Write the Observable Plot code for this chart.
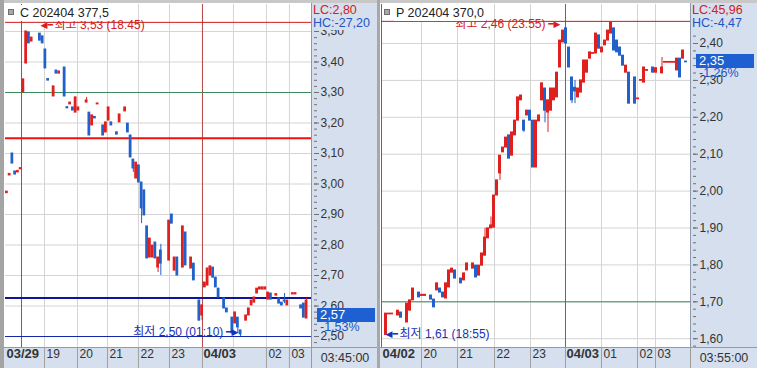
<!DOCTYPE html>
<html><head><meta charset="utf-8">
<script src="https://cdn.jsdelivr.net/npm/d3@7"></script>
<script src="https://cdn.jsdelivr.net/npm/@observablehq/plot@0.6"></script>
<style>
html,body{margin:0;padding:0;background:#fff;}
#root{position:relative;width:757px;height:368px;overflow:hidden;background:#fff;font-family:"Liberation Sans",Arial,"Noto Sans CJK KR",sans-serif;}
.abs{position:absolute;box-sizing:border-box;white-space:nowrap;}
</style></head>
<body><div id="root"></div>
<script>
// ---------------- DATA ----------------
// Left: C 202404 377.5 (5-minute bars; slot = bar position)
const leftSlot = [0,1,2,3,4,5,6,7,8,9, 12,13,14,15,17,18,19,21,22,23, 24,25,26,29,30,31,32,33,35,36, 37,38,40,41,43,44,45,46,47,48,
  49,50,51,52,53,54,55,56,59,60, 61,62,64,65,67,68,70,71,72,73, 74,75,76,77,79,80,82,83,84,85, 87,88,89,90,91,92,93,94,95,96,
  98,99,100,101,102,104,105,107,108,109];
const leftOpen = [2.970,3.028,3.100,3.041,3.038,3.048,3.300,3.395,3.497,3.467, 3.493,3.484,3.441,3.344,3.287,3.372,3.362,3.382,3.252,3.261,
  3.251,3.234,3.241,3.267,3.234,3.192,3.220,3.261,3.192,3.169, 3.208,3.202,3.169,3.202,3.238,3.198,3.159,3.080,3.018,3.061,
  3.005,2.979,2.861,2.759,2.759,2.808,2.726,2.782,2.749,2.900, 2.716,2.759,2.726,2.841,2.723,2.739,2.618,2.569,2.661,2.667,
  2.700,2.726,2.693,2.657,2.625,2.592,2.562,2.543,2.562,2.520, 2.552,2.569,2.602,2.611,2.641,2.654,2.654,2.654,2.621,2.641,
  2.634,2.625,2.611,2.618,2.602,2.638,2.638,2.602,2.608,2.559];
const leftClose = [2.975,3.033,3.067,3.031,3.043,3.052,3.343,3.500,3.461,3.480, 3.470,3.461,3.379,3.339,3.320,3.362,3.369,3.287,3.248,3.267,
  3.241,3.284,3.251,3.274,3.159,3.225,3.215,3.264,3.159,3.202, 3.251,3.192,3.162,3.228,3.251,3.169,3.087,3.051,3.070,3.005,
  2.920,2.897,2.756,2.821,2.798,2.756,2.759,2.739,2.880,2.870, 2.759,2.700,2.861,2.733,2.759,2.684,2.552,2.602,2.677,2.723,
  2.730,2.693,2.661,2.628,2.592,2.579,2.510,2.579,2.530,2.507, 2.569,2.592,2.618,2.628,2.657,2.661,2.661,2.661,2.644,2.621,
  2.639,2.608,2.602,2.615,2.618,2.642,2.642,2.592,2.562,2.618];
const leftHigh = [2.975,3.033,3.100,3.041,3.043,3.052,3.343,3.500,3.497,3.480, 3.493,3.484,3.441,3.344,3.320,3.372,3.369,3.382,3.252,3.267,
  3.251,3.284,3.251,3.284,3.234,3.225,3.220,3.264,3.192,3.202, 3.251,3.202,3.172,3.228,3.251,3.198,3.159,3.080,3.070,3.061,
  3.005,2.979,2.861,2.821,2.798,2.808,2.759,2.802,2.880,2.900, 2.759,2.759,2.861,2.841,2.759,2.739,2.618,2.602,2.677,2.723,
  2.730,2.726,2.693,2.657,2.625,2.592,2.562,2.579,2.562,2.520, 2.569,2.592,2.618,2.628,2.657,2.661,2.661,2.661,2.644,2.641,
  2.639,2.625,2.611,2.641,2.618,2.642,2.642,2.602,2.608,2.625];
const leftLow = [2.970,3.028,3.067,3.031,3.038,3.048,3.300,3.395,3.461,3.467, 3.470,3.461,3.379,3.339,3.287,3.362,3.362,3.287,3.248,3.261,
  3.241,3.234,3.241,3.267,3.159,3.192,3.215,3.261,3.159,3.169, 3.208,3.192,3.162,3.202,3.238,3.169,3.087,3.038,3.018,3.005,
  2.870,2.897,2.756,2.759,2.759,2.756,2.710,2.700,2.749,2.870, 2.716,2.700,2.726,2.733,2.723,2.684,2.552,2.552,2.661,2.667,
  2.700,2.693,2.661,2.628,2.592,2.579,2.510,2.543,2.510,2.500, 2.552,2.569,2.602,2.611,2.641,2.654,2.654,2.654,2.621,2.621,
  2.634,2.608,2.602,2.608,2.602,2.638,2.638,2.592,2.562,2.559];
const leftYTicks = [2.5,2.6,2.7,2.8,2.9,3.0,3.1,3.2,3.3,3.4,3.5];
const leftHourPos = [14.18,26.18,37.09,48.36,59.64,82.91,94.91,103.27];
const leftDayPos = [5.82,71.64];
const leftSepPos = [14.18,26.18,37.09,48.36,59.64,71.64,94.91,103.27];
const leftLabelPos = [0,14.18,26.18,37.09,48.36,59.64,71.64,94.91,103.27];
const leftLabelText = ["03/29","19","20","21","22","23","04/03","02","03"];
const leftHighLevel = 3.53, leftLowLevel = 2.50, leftGreenLevel = 3.30, leftRedLevel = 3.15, leftNavyLevel = 2.626;
const leftHighSlot = 12.73, leftLowSlot = 84.7;
const leftLast = 2.57;

// Right: P 202404 370.0
const rightSlot = [1,2,3,5,6,8,9,10,12,13, 14,16,17,18,19,20,21,22,23,24, 26,27,28,30,31,32,33,34,35,36, 37,38,39,40,41,42,43,44,45,46,
  47,48,49,50,51,52,53,54,55,56, 57,58,59,60,61,62,63,64,65,66, 67,68,69,70,71,72,73,74,75,76, 77,78,79,80,81,82,84,85,86,87,
  88,90,91,93,94,95,96,97,98,99, 100,101];
const rightOpen = [1.610,1.666,1.666,1.663,1.671,1.644,1.676,1.704,1.725,1.716, 1.716,1.717,1.706,1.731,1.736,1.725,1.709,1.739,1.779,1.785,
  1.763,1.758,1.785,1.790,1.798,1.771,1.798,1.825,1.872,1.899, 1.901,1.988,2.048,2.105,2.118,2.151,2.096,2.151,2.191,2.246,
  2.191,2.205,2.218,2.191,2.064,2.189,2.246,2.278,2.213,2.218, 2.246,2.254,2.335,2.403,2.441,2.389,2.308,2.280,2.254,2.267,
  2.294,2.321,2.359,2.372,2.373,2.422,2.376,2.395,2.408,2.427, 2.441,2.408,2.389,2.367,2.321,2.321,2.308,2.249,2.299,2.294,
  2.326,2.335,2.321,2.319,2.348,2.348,2.348,2.348,2.327,2.359, 2.359,2.351];
const rightClose = [1.668,1.668,1.668,1.676,1.657,1.695,1.704,1.736,1.712,1.719, 1.719,1.706,1.685,1.750,1.725,1.712,1.750,1.785,1.790,1.763,
  1.750,1.777,1.804,1.804,1.766,1.798,1.831,1.874,1.899,1.907, 1.988,2.029,2.096,2.118,2.145,2.088,2.159,2.191,2.254,2.259,
  2.164,2.218,2.191,2.064,2.191,2.205,2.292,2.218,2.246,2.278, 2.278,2.321,2.408,2.435,2.400,2.335,2.246,2.270,2.278,2.300,
  2.354,2.354,2.376,2.374,2.427,2.386,2.389,2.408,2.435,2.457, 2.381,2.376,2.367,2.340,2.340,2.237,2.237,2.251,2.301,2.335,
  2.328,2.321,2.333,2.335,2.350,2.350,2.350,2.350,2.359,2.308, 2.381,2.349];
const rightHigh = [1.668,1.668,1.668,1.676,1.671,1.695,1.704,1.736,1.725,1.719, 1.719,1.717,1.706,1.750,1.736,1.725,1.750,1.785,1.790,1.785,
  1.763,1.777,1.804,1.804,1.798,1.798,1.831,1.899,1.899,1.930, 1.988,2.029,2.096,2.118,2.145,2.151,2.159,2.191,2.254,2.259,
  2.191,2.218,2.218,2.191,2.191,2.205,2.292,2.278,2.246,2.278, 2.278,2.321,2.408,2.435,2.441,2.389,2.308,2.300,2.278,2.300,
  2.354,2.354,2.376,2.374,2.427,2.422,2.389,2.408,2.435,2.457, 2.441,2.408,2.389,2.367,2.340,2.321,2.308,2.251,2.301,2.335,
  2.328,2.335,2.333,2.362,2.350,2.350,2.350,2.350,2.359,2.359, 2.381,2.351];
const rightLow = [1.610,1.666,1.666,1.663,1.657,1.644,1.676,1.704,1.712,1.716, 1.716,1.706,1.685,1.731,1.725,1.712,1.709,1.739,1.779,1.763,
  1.750,1.758,1.785,1.790,1.766,1.771,1.798,1.825,1.872,1.899, 1.901,1.988,2.029,2.105,2.118,2.088,2.096,2.151,2.191,2.246,
  2.159,2.205,2.191,2.064,2.064,2.189,2.246,2.185,2.159,2.218, 2.246,2.254,2.335,2.403,2.400,2.335,2.237,2.237,2.254,2.267,
  2.294,2.321,2.359,2.372,2.373,2.386,2.376,2.395,2.408,2.427, 2.381,2.376,2.367,2.340,2.321,2.237,2.237,2.249,2.299,2.294,
  2.326,2.321,2.321,2.319,2.348,2.348,2.348,2.348,2.327,2.308, 2.359,2.349];
const rightYTicks = [1.6,1.7,1.8,1.9,2.0,2.1,2.2,2.3,2.4];
const rightHourPos = [13.33,25.33,37.67,49.67,73.33,85.33,91.33];
const rightDayPos = [0,61.33];
const rightSepPos = [13.33,25.33,37.67,49.67,61.33,73.33,85.33,91.33];
const rightLabelPos = [0,13.33,25.33,37.67,49.67,61.33,73.33,85.33,91.33];
const rightLabelText = ["04/02","20","21","22","23","04/03","01","02","03"];
const rightHighLevel = 2.46, rightLowLevel = 1.61, rightGreenLevel = 1.70;
const rightHighSlot = 59.67, rightLowSlot = 1.33;
const rightLast = 2.35;

// ---------------- DRAW ----------------
const FONT = '"Liberation Sans", Arial, "Noto Sans CJK KR", sans-serif';
const ARROWFONT = '"DejaVu Sans", sans-serif';
const RED = "#e0201e", BLUE = "#2161c9", AX = "#d5dfed";
const fmt2 = v => v.toFixed(2).replace(".", ",");
const root = document.getElementById("root");
function box(css, text) {
  const d = document.createElement("div");
  d.className = "abs";
  for (const k in css) d.style[k] = typeof css[k] === "number" ? css[k] + "px" : css[k];
  if (text != null) d.textContent = text;
  root.appendChild(d);
  return d;
}
// frame / panels
box({left:0, top:0, width:757, height:3, background:"#c8c8c8"});
box({left:0, top:0, width:4, height:368, background:"#a4a4a4"});
box({left:311, top:3, width:66, height:344, background:AX, borderLeft:"1px solid #8d99ab"});
box({left:4, top:347, width:307, height:21, background:AX, borderTop:"1px solid #9a9a9a"});
box({left:311, top:347, width:66, height:21, background:AX, borderTop:"1px solid #9a9a9a", borderLeft:"1px solid #9a9a9a"});
box({left:377, top:0, width:3, height:368, background:"#a8a8a8"});
box({left:690, top:3, width:67, height:344, background:AX, borderLeft:"1px solid #8d99ab"});
box({left:380, top:347, width:310, height:21, background:AX, borderTop:"1px solid #9a9a9a"});
box({left:690, top:347, width:67, height:21, background:AX, borderTop:"1px solid #9a9a9a", borderLeft:"1px solid #9a9a9a"});

// annotation: filled arrow + text, positioned at a data point
function note(slot, level, label, side, dy, fill) {
  const p = [{x: slot, y: level}];
  if (side === "left") { // arrow points left at the slot, text follows to the right
    return [
      Plot.text(p, {x: "x", y: "y", text: () => "◀━", textAnchor: "start", dy, fill, fontSize: 9, fontFamily: ARROWFONT}),
      Plot.text(p, {x: "x", y: "y", text: () => label, textAnchor: "start", dx: 14, dy, fill, fontSize: 12})
    ];
  }
  return [
    Plot.text(p, {x: "x", y: "y", text: () => "━▶", textAnchor: "end", dy, fill, fontSize: 9, fontFamily: ARROWFONT}),
    Plot.text(p, {x: "x", y: "y", text: () => label, textAnchor: "end", dx: -15, dy, fill, fontSize: 12})
  ];
}

function buildPanel(c) {
  const candles = c.slot.map((s, i) => ({s, o: c.open[i], cl: c.close[i], h: c.high[i], l: c.low[i]}));
  const col = d => d.cl >= d.o ? RED : BLUE;
  const labels = c.labelPos.map((x, i) => ({x, t: c.labelText[i]}));
  const minor = d3.range(Math.ceil(c.yDomain[0] * 50), Math.floor(c.yDomain[1] * 50) + 1).map(k => k / 50);
  const plot = Plot.plot({
    width: c.width, height: 368,
    marginLeft: c.mL, marginRight: c.mR, marginTop: 4, marginBottom: 21,
    x: {domain: c.xDomain, axis: null},
    y: {domain: c.yDomain, axis: null},
    color: {type: "identity"},
    style: {background: "transparent", fontFamily: FONT, fontSize: "12px", overflow: "visible", color: "#333"},
    marks: [
      Plot.ruleY(c.yTicks, {stroke: "#d4d4d4"}),
      Plot.ruleX(c.hourPos, {stroke: "#d4d4d4"}),
      Plot.ruleX(c.dayPos, {stroke: "#b54646"}),
      ...c.levels,
      Plot.ruleX(candles, {x: d => d.s + 0.5, y1: "l", y2: "h", stroke: col}),
      Plot.rect(candles, {x1: d => d.s, x2: d => d.s + 1, y1: "o", y2: "cl", fill: col, insetTop: -0.5, insetBottom: -0.5}),
      Plot.axisY(minor, {anchor: "right", tickSize: 3, tickFormat: () => "", stroke: "#707070", dx: 2, label: null}),
      Plot.axisY(c.yTicks, {anchor: "right", tickSize: 5, tickPadding: 2, tickFormat: fmt2, stroke: "#707070", fill: "#333", dx: 2, fontSize: 12, label: null}),
      Plot.axisX(c.sepPos, {anchor: "bottom", tickSize: 21, tickFormat: () => "", stroke: "#a0a0a0", label: null}),
      Plot.text(labels.filter(d => !d.t.includes("/")), {x: "x", text: "t", frameAnchor: "bottom", dy: 10, dx: 2, textAnchor: "start", fill: "#333", fontSize: 12}),
      Plot.text(labels.filter(d => d.t.includes("/")), {x: "x", text: "t", frameAnchor: "bottom", dy: 10, dx: 1, textAnchor: "start", fill: "#333", fontSize: 13, fontWeight: "bold"}),
      ...c.notes
    ]
  });
  const wrap = document.createElement("div");
  wrap.className = "abs";
  wrap.style.left = c.left + "px"; wrap.style.top = "0px"; wrap.style.width = c.width + "px"; wrap.style.height = "368px";
  wrap.appendChild(plot);
  root.appendChild(wrap);
  // overlays (positions from the plot's own y scale)
  const ys = plot.scale("y");
  const ax = c.left + c.width - c.mR; // axis panel start
  box({left: c.left + c.mL + 3, top: 9, width: 6, height: 6, background: "#a8a8a8", border: "1px solid #6e6e6e"});
  box({left: c.left + c.mL + 13, top: 5, height: 16, lineHeight: "16px", padding: "0 2px", background: "#fff", fontSize: "12.5px", color: "#222"}, c.title);
  box({left: ax + 2, top: 4, height: 13, lineHeight: "13px", paddingRight: "2px", background: AX, fontSize: "12.5px", color: "#d42020"}, c.lc);
  box({left: ax + 2, top: 17, height: 13, lineHeight: "13px", paddingRight: "2px", background: AX, fontSize: "12.5px", color: "#2055c4"}, c.hc);
  const py = ys.apply(c.last);
  box({left: ax + 6, top: py - 7, width: 58, height: 14, lineHeight: "14px", paddingLeft: "3px", background: "#1e5fd2", color: "#fff", fontSize: "13px"}, fmt2(c.last));
  box({left: ax + 9, top: py + 6, height: 12, lineHeight: "12px", color: "#2055c4", fontSize: "12.5px", background: "transparent"}, c.change);
  box({left: ax + 1, top: 348, width: c.mR - 1, height: 20, lineHeight: "20px", textAlign: "center", color: "#333", fontSize: "12.5px"}, c.time);
  return plot;
}

buildPanel({
  left: 0, width: 378, mL: 5, mR: 67,
  xDomain: [0, 111.3], yDomain: [2.464, 3.5885],
  slot: leftSlot, open: leftOpen, close: leftClose, high: leftHigh, low: leftLow,
  yTicks: leftYTicks, hourPos: leftHourPos, dayPos: leftDayPos, sepPos: leftSepPos,
  labelPos: leftLabelPos, labelText: leftLabelText,
  levels: [
    Plot.ruleY([leftHighLevel], {stroke: "#cc1a1a"}),
    Plot.ruleY([leftGreenLevel], {stroke: "#3b8a5c"}),
    Plot.ruleY([leftRedLevel], {stroke: "#f01010", strokeWidth: 2}),
    Plot.ruleY([leftNavyLevel], {stroke: "#12129c", strokeWidth: 2}),
    Plot.ruleY([leftLowLevel], {stroke: "#1226a6"})
  ],
  notes: [
    ...note(leftHighSlot, leftHighLevel, "최고 3,53 (18:45)", "left", 3, "#d42020"),
    ...note(leftLowSlot, leftLowLevel, "최저 2,50 (01:10)", "right", -4, "#1630b8")
  ],
  title: "C 202404 377,5", lc: "LC:2,80", hc: "HC:-27,20", last: leftLast, change: "-1,53%", time: "03:45:00"
});

buildPanel({
  left: 378, width: 379, mL: 3, mR: 67,
  xDomain: [0, 103], yDomain: [1.5762, 2.5057],
  slot: rightSlot, open: rightOpen, close: rightClose, high: rightHigh, low: rightLow,
  yTicks: rightYTicks, hourPos: rightHourPos, dayPos: rightDayPos, sepPos: rightSepPos,
  labelPos: rightLabelPos, labelText: rightLabelText,
  levels: [
    Plot.ruleY([rightHighLevel], {stroke: "#cc1a1a"}),
    Plot.ruleY([rightGreenLevel], {stroke: "#3b8a5c"})
  ],
  notes: [
    ...note(rightHighSlot, rightHighLevel, "최고 2,46 (23:55)", "right", 3, "#d42020"),
    ...note(rightLowSlot, rightLowLevel, "최저 1,61 (18:55)", "left", -1, "#1630b8")
  ],
  title: "P 202404 370,0", lc: "LC:45,96", hc: "HC:-4,47", last: rightLast, change: "-1,26%", time: "03:55:00"
});
</script>
</body></html>
